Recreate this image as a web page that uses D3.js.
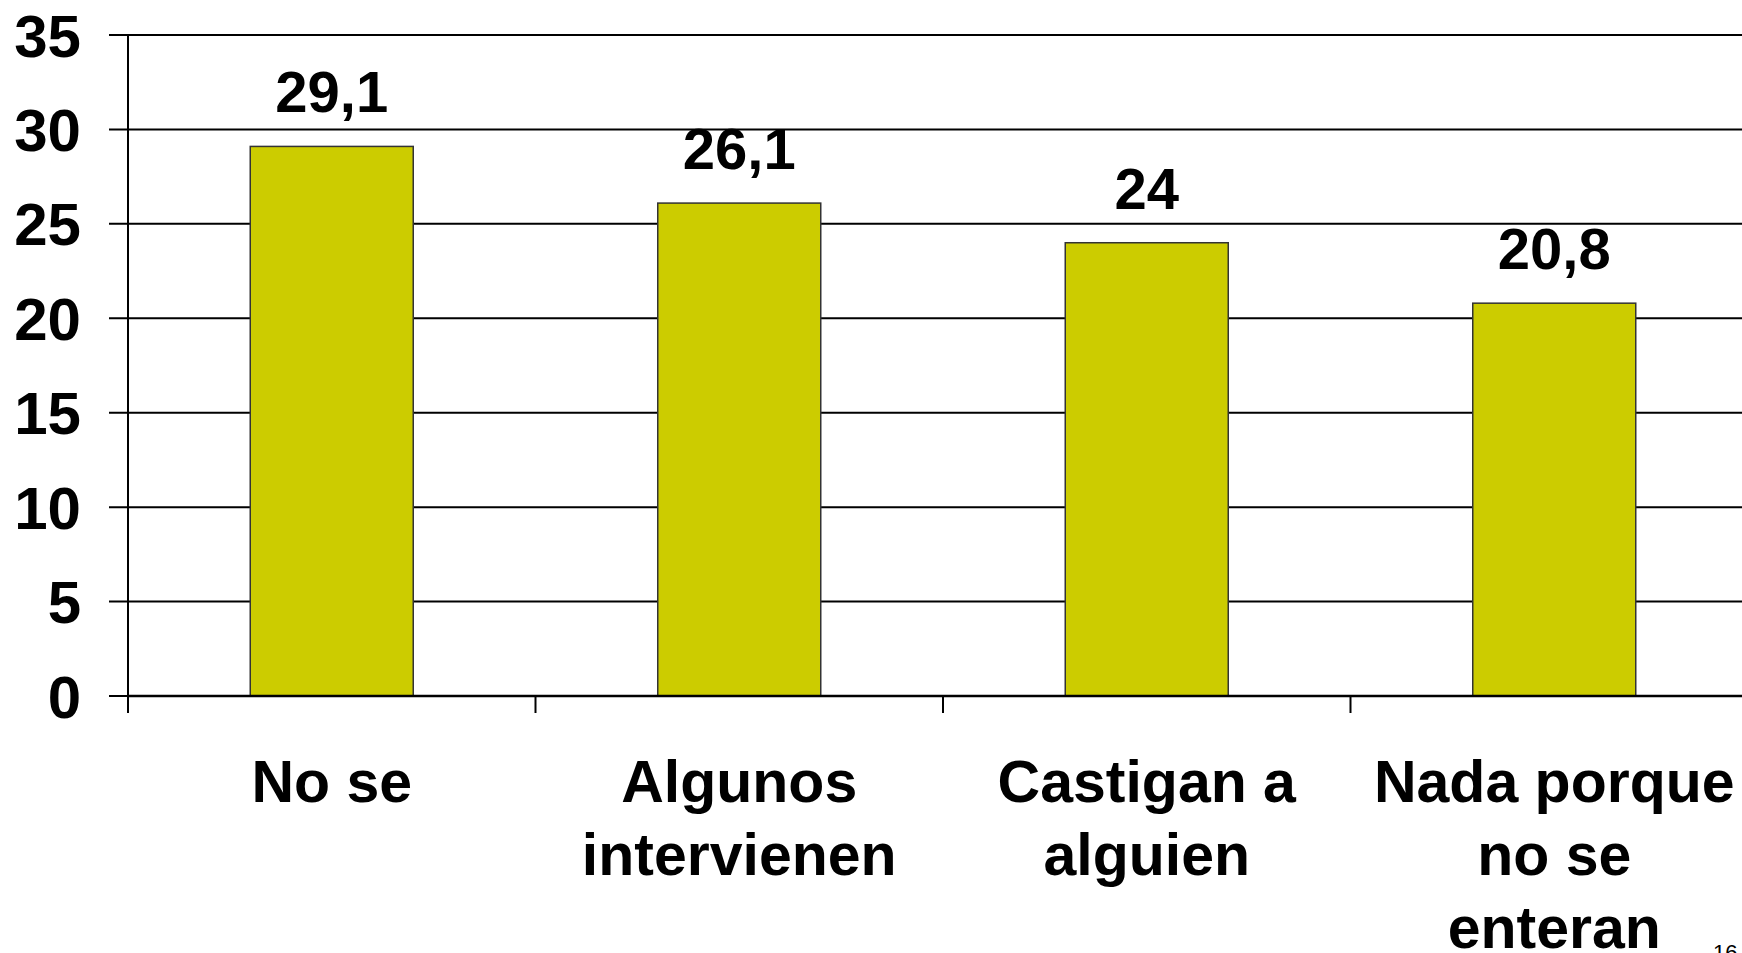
<!DOCTYPE html>
<html>
<head>
<meta charset="utf-8">
<script src="https://cdn.jsdelivr.net/npm/d3@7"></script>
<style>
  body { margin: 0; background: #fff; overflow: hidden; }
  svg { display: block; }
  text { font-family: "Liberation Sans", Arial, sans-serif; font-weight: bold; fill: #000; }
</style>
</head>
<body>
<div id="chart"></div>
<script>
// Data
var categories = ["No se", "Algunos intervienen", "Castigan a alguien", "Nada porque no se enteran"];
var categoryLines = [["No se"], ["Algunos", "intervienen"], ["Castigan a", "alguien"], ["Nada porque", "no se", "enteran"]];
var values = [29.1, 26.1, 24, 20.8];
var valueLabels = ["29,1", "26,1", "24", "20,8"];
var yTicks = [0, 5, 10, 15, 20, 25, 30, 35];
var pageNumber = "16";

// svg params
var svgWidth = 1742;
var svgHeight = 953;
var margin = { top: 35, left: 128, bottom: 257 };
var plotWidth = 4 * 407.5;
var plotHeight = svgHeight - margin.top - margin.bottom;

var svg = d3.select("#chart").append("svg")
    .attr("width", svgWidth)
    .attr("height", svgHeight);

var chartGroup = svg.append("g")
    .attr("transform", `translate(${margin.left}, ${margin.top})`);

// Scales
var xScale = d3.scaleBand()
    .domain(categories)
    .range([0, plotWidth])
    .paddingInner(0.6)
    .paddingOuter(0.3);

var yScale = d3.scaleLinear()
    .domain([0, 35])
    .range([plotHeight, 0]);

// Gridlines with left tick marks
chartGroup.append("g")
    .selectAll("line")
    .data(yTicks)
    .enter()
    .append("line")
    .attr("x1", -19)
    .attr("x2", plotWidth)
    .attr("y1", d => yScale(d))
    .attr("y2", d => yScale(d))
    .attr("stroke", "#000")
    .attr("stroke-width", 2);

// y tick labels
chartGroup.append("g")
    .selectAll("text")
    .data(yTicks)
    .enter()
    .append("text")
    .attr("x", -47)
    .attr("y", d => yScale(d))
    .attr("dy", "0.36em")
    .attr("text-anchor", "end")
    .style("font-size", "60px")
    .text(d => d);

// Bars
chartGroup.append("g")
    .selectAll("rect")
    .data(values)
    .enter()
    .append("rect")
    .attr("x", (d, i) => xScale(categories[i]))
    .attr("y", d => yScale(d))
    .attr("width", xScale.bandwidth())
    .attr("height", d => plotHeight - yScale(d))
    .attr("fill", "#CCCC00")
    .attr("stroke", "#333")
    .attr("stroke-width", 1.5);

// value labels
chartGroup.append("g")
    .selectAll("text")
    .data(values)
    .enter()
    .append("text")
    .attr("x", (d, i) => xScale(categories[i]) + xScale.bandwidth() / 2)
    .attr("y", d => yScale(d) - 34)
    .attr("text-anchor", "middle")
    .style("font-size", "58px")
    .text((d, i) => valueLabels[i]);

// y axis line
chartGroup.append("line")
    .attr("x1", 0).attr("x2", 0)
    .attr("y1", 0).attr("y2", plotHeight + 17)
    .attr("stroke", "#000")
    .attr("stroke-width", 2);

// x axis line
chartGroup.append("line")
    .attr("x1", 0).attr("x2", plotWidth)
    .attr("y1", plotHeight).attr("y2", plotHeight)
    .attr("stroke", "#000")
    .attr("stroke-width", 2.5);

// x ticks at band boundaries
var step = xScale.step();
chartGroup.append("g")
    .selectAll("line")
    .data(categories)
    .enter()
    .append("line")
    .attr("x1", (d, i) => i * step)
    .attr("x2", (d, i) => i * step)
    .attr("y1", plotHeight)
    .attr("y2", plotHeight + 17)
    .attr("stroke", "#000")
    .attr("stroke-width", 2);

// category labels
var catGroup = chartGroup.append("g")
    .selectAll("text")
    .data(categories)
    .enter()
    .append("text")
    .attr("text-anchor", "middle")
    .style("font-size", "59px")
    .attr("x", d => xScale(d) + xScale.bandwidth() / 2)
    .attr("y", plotHeight + 106);

catGroup.selectAll("tspan")
    .data((d, i) => categoryLines[i])
    .enter()
    .append("tspan")
    .attr("x", function() { return d3.select(this.parentNode).attr("x"); })
    .attr("dy", (d, i) => i === 0 ? 0 : 73)
    .text(d => d);

// page number
svg.append("text")
    .attr("x", 1713)
    .attr("y", 960)
    .style("font-size", "22px")
    .style("font-weight", "normal")
    .text(pageNumber);
</script>
</body>
</html>
